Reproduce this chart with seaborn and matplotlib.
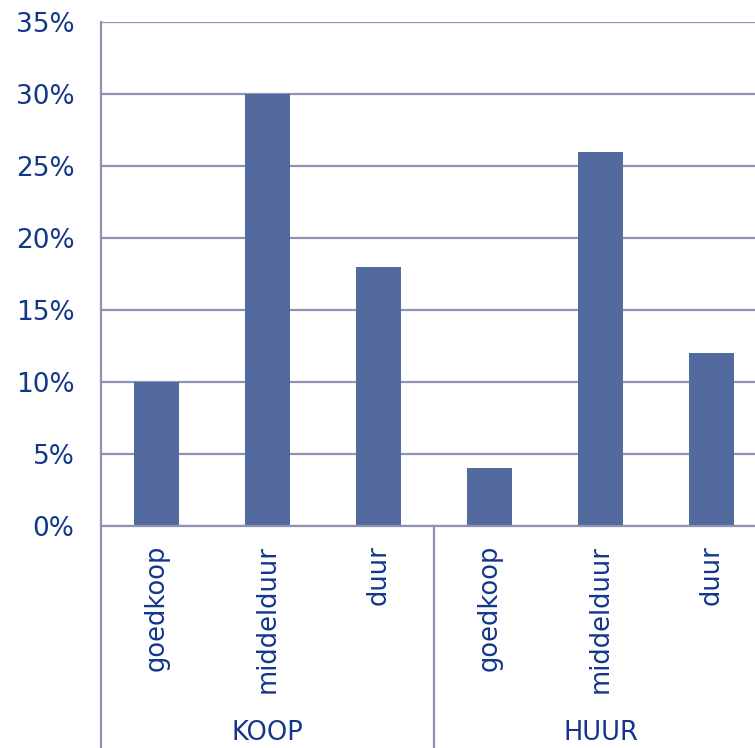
import matplotlib
matplotlib.use("Agg")
import matplotlib.pyplot as plt
import seaborn as sns
import pandas as pd
from matplotlib.ticker import FuncFormatter

# data
groups = ["KOOP", "KOOP", "KOOP", "HUUR", "HUUR", "HUUR"]
segments = ["goedkoop", "middelduur", "duur", "goedkoop", "middelduur", "duur"]
shares = [10, 30, 18, 4, 26, 12]
group_names = ["KOOP", "HUUR"]
y_ticks = [0, 5, 10, 15, 20, 25, 30, 35]

bar_color = "#536a9e"
text_color = "#12378a"
line_color = "#8e93b6"

df = pd.DataFrame({"group": groups, "segment": segments, "share": shares})
df["key"] = df["group"] + "_" + df["segment"]

sns.set_style("white")
plt.rcParams["font.family"] = ["DejaVu Sans"]

fig = plt.figure(figsize=(7.55, 7.48), dpi=100)
ax = fig.add_axes([101 / 755, 222 / 748, 654 / 755, 504 / 748])

sns.barplot(data=df, x="key", y="share", color=bar_color, width=0.4,
            saturation=1, linewidth=0, ax=ax)

ax.set_xlim(-0.5, -0.5 + 654 / 111)
ax.set_ylim(0, 35)
ax.set_yticks(y_ticks)
ax.yaxis.set_major_formatter(FuncFormatter(lambda v, p: f"{int(v)}%"))
ax.grid(axis="y", color=line_color, linewidth=1.6)
ax.set_axisbelow(True)
ax.set_xlabel("")
ax.set_ylabel("")

for side in ["top", "right"]:
    ax.spines[side].set_visible(False)
for side in ["left", "bottom"]:
    ax.spines[side].set_color(line_color)
    ax.spines[side].set_linewidth(1.6)

ax.tick_params(axis="y", length=0, pad=19, labelsize=19, labelcolor=text_color)
ax.set_xticks(range(len(segments)))
ax.set_xticklabels([])
ax.tick_params(axis="x", length=0)

# rotated category labels under each bar
trans = ax.get_xaxis_transform()
for i, seg in enumerate(segments):
    ax.text(i, -19 / 504, seg, rotation=90, ha="center", va="top",
            fontsize=18.5, color=text_color, transform=trans, clip_on=False)

# group separators and names
for g in range(len(group_names) + 1):
    ax.plot([g * 3 - 0.5, g * 3 - 0.5], [0, -222 / 504], transform=trans,
            color=line_color, linewidth=1.6, clip_on=False)
for g, name in enumerate(group_names):
    ax.text(g * 3 + 1, -207 / 504, name, ha="center", va="center",
            fontsize=18.5, color=text_color, transform=trans, clip_on=False)

fig.savefig("out.png", dpi=100)
